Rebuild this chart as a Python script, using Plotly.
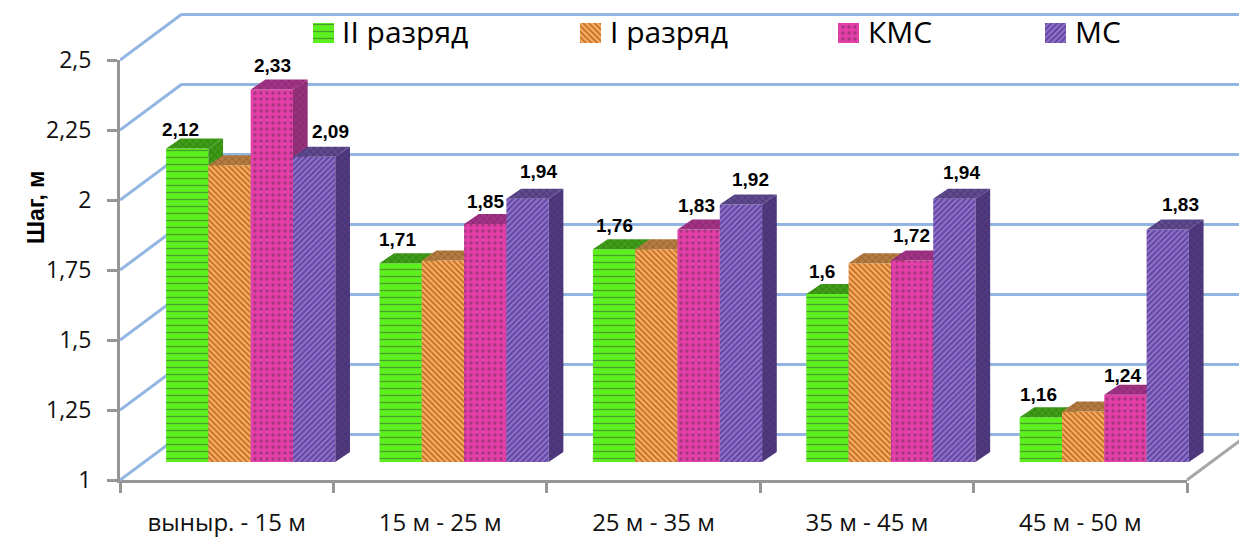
import plotly.graph_objects as go

W, H = 1239, 538

categories = ["выныр. - 15 м", "15 м - 25 м", "25 м - 35 м", "35 м - 45 м", "45 м - 50 м"]
series_names = ["II разряд", "I разряд", "КМС", "МС"]
second_class = [2.12, 1.71, 1.76, 1.60, 1.16]
first_class = [2.06, 1.72, 1.76, 1.71, 1.18]
candidate_master = [2.33, 1.85, 1.83, 1.72, 1.24]
master = [2.09, 1.94, 1.92, 1.94, 1.83]
y_ticks = [1, 1.25, 1.5, 1.75, 2, 2.25, 2.5]

# which bars carry a value label, and how far each label sits from its bar top
labelled = [True, False, True, True]
label_shift = {
    (0, 0): (-7, 19), (0, 1): (-3, 24), (0, 2): (0, 24), (0, 3): (-5, 23), (0, 4): (-2, 23),
    (2, 0): (1, 24), (2, 1): (0, 23), (2, 2): (-2, 24), (2, 3): (-1, 25), (2, 4): (-3, 19),
    (3, 0): (16, 25), (3, 1): (11, 27), (3, 2): (10, 25), (3, 3): (7, 26), (3, 4): (13, 25),
}
series_values = [second_class, first_class, candidate_master, master]

styles = [
    dict(bg="#5CF01E", fg="#4A9E2A", shape="-", size=7, solidity=0.18,
         side="#3C9A14", top="#3F9C18", side_fg="#2F7A10"),
    dict(bg="#FBAE62", fg="#BC6A22", shape="\\", size=4, solidity=0.4,
         side="#A9703A", top="#B57C42", side_fg="#8E5A2A"),
    dict(bg="#E23FA9", fg="#A8357F", shape=".", size=6, solidity=0.25,
         side="#96307A", top="#A23285", side_fg="#7C2664"),
    dict(bg="#8F71C4", fg="#5A3EA3", shape="/", size=4, solidity=0.4,
         side="#50397F", top="#5E4A8C", side_fg="#43306E"),
]

GRID = "#92B5E2"
AXIS = "#969696"
FONT = "Open Sans"

# geometry of the pseudo-3D box, in pixels
AX_L, AX_R, AX_B, AX_T = 120, 1187, 480, 60
SLOT = (AX_R - AX_L) / 5
UNIT = (AX_B - AX_T) / 1.5
BACK_DX, BACK_DY = 62, 46
BAR_DX, BAR_DY = 44 / 3, 10
BAR_SHIFT_X, BAR_SHIFT_Y = 24, 18
BAR_W = 42.3 / SLOT


def xdom(a, b):
    return [max(a, 0) / W, min(b, W) / W]


def ydom(bottom, top):
    return [(H - bottom) / H, (H - top) / H]


fig = go.Figure()
layout_axes = {}

# main axes: category ticks and value ticks
fig.add_trace(go.Scatter(x=categories, y=[1] * 5, mode="lines", line=dict(width=0),
                         hoverinfo="skip", xaxis="x", yaxis="y", showlegend=False))
layout_axes["xaxis"] = dict(
    domain=xdom(AX_L, AX_R), anchor="y", type="category", categoryorder="array",
    categoryarray=categories, range=[-0.5, 4.5], tickson="boundaries", ticks="outside",
    ticklen=10, tickwidth=3, tickcolor=AXIS, showline=True, linecolor=AXIS, linewidth=3,
    showgrid=False, zeroline=False, ticklabelstandoff=19, automargin=False,
    tickfont=dict(family=FONT, size=24, color="#111111"))
layout_axes["yaxis"] = dict(
    domain=ydom(AX_B, AX_T), anchor="x", range=[1, 2.5], tickmode="array", tickvals=y_ticks,
    ticktext=[format(v, "g").replace(".", ",") for v in y_ticks], ticks="outside",
    ticklen=10, tickwidth=3, tickcolor=AXIS, showline=True, linecolor=AXIS, linewidth=3,
    showgrid=False, zeroline=False, ticklabelstandoff=11, automargin=False,
    tickfont=dict(family=FONT, size=23, color="#111111"))

# back wall with its horizontal gridlines; the range runs a little past both
# end ticks so those gridlines are kept
fig.add_trace(go.Scatter(x=[0], y=[1], mode="lines", line=dict(width=0), hoverinfo="skip",
                         xaxis="x2", yaxis="y2", showlegend=False))
PAD_LOW, PAD_HIGH = 0.05, 0.03
layout_axes["xaxis2"] = dict(domain=xdom(AX_L + BACK_DX, W), anchor="y2", range=[0, 1],
                             visible=False)
layout_axes["yaxis2"] = dict(
    domain=ydom(AX_B - BACK_DY + PAD_LOW * UNIT, AX_T - BACK_DY - PAD_HIGH * UNIT), anchor="x2",
    range=[1 - PAD_LOW, 2.5 + PAD_HIGH], tickmode="array", tickvals=y_ticks, showgrid=True,
    gridcolor=GRID, gridwidth=3, showticklabels=False, zeroline=False,
    ticks="", showline=False, automargin=False)

# side-wall lines running from the value axis back to the wall, plus the floor edge
dx_slot = BACK_DX / SLOT
dy_val = BACK_DY / UNIT
wall_x, wall_y = [], []
for v in y_ticks:
    wall_x += [0, dx_slot, None]
    wall_y += [v, v + dy_val, None]
fig.add_trace(go.Scatter(x=wall_x, y=wall_y, mode="lines", line=dict(color=GRID, width=3),
                         hoverinfo="skip", xaxis="x3", yaxis="y3", showlegend=False))
fig.add_trace(go.Scatter(x=[5, 5 + dx_slot], y=[1, 1 + dy_val], mode="lines",
                         line=dict(color="#A6A6A6", width=3), hoverinfo="skip",
                         xaxis="x3", yaxis="y3", showlegend=False))
layout_axes["xaxis3"] = dict(domain=xdom(AX_L, W), anchor="y3",
                             range=[0, (W - AX_L) / SLOT], visible=False)
layout_axes["yaxis3"] = dict(domain=ydom(AX_B + 10, 0), anchor="x3",
                             range=[1 - 10 / UNIT, 1 + AX_B / UNIT], visible=False)

# one stacked subplot per series, so each column paints over its left neighbour
annotations = []
ddx = BAR_DX / SLOT
ddy = BAR_DY / UNIT
for s, (name, values, st) in enumerate(zip(series_names, series_values, styles)):
    xa, ya = f"x{s + 4}", f"y{s + 4}"
    xs = [i + 0.5 + (s - 1.5) * BAR_W for i in range(len(values))]
    fig.add_trace(go.Bar(
        x=xs, y=values, width=BAR_W, name=name, xaxis=xa, yaxis=ya, showlegend=False,
        marker=dict(color=st["bg"], line=dict(width=0),
                    pattern=dict(shape=st["shape"], fgcolor=st["fg"], bgcolor=st["bg"],
                                 size=st["size"], solidity=st["solidity"], fillmode="replace"))))
    top_x, top_y, side_x, side_y = [], [], [], []
    for x, v in zip(xs, values):
        l, r = x - BAR_W / 2, x + BAR_W / 2
        top_x += [l, r, r + ddx, l + ddx, l, None]
        top_y += [v, v, v + ddy, v + ddy, v, None]
        side_x += [r, r + ddx, r + ddx, r, r, None]
        side_y += [v, v + ddy, 1 + ddy, 1, v, None]
    fig.add_trace(go.Scatter(
        x=side_x, y=side_y, mode="none", fill="toself", fillcolor=st["side"],
        fillpattern=dict(shape="x", fgcolor=st["side_fg"], bgcolor=st["side"], size=5, solidity=0.25),
        hoverinfo="skip", xaxis=xa, yaxis=ya, showlegend=False))
    fig.add_trace(go.Scatter(
        x=top_x, y=top_y, mode="none", fill="toself", fillcolor=st["top"],
        fillpattern=dict(shape="x", fgcolor=st["side_fg"], bgcolor=st["top"], size=5, solidity=0.25),
        hoverinfo="skip", xaxis=xa, yaxis=ya, showlegend=False))
    axis_x = "xaxis" + xa[1:]
    axis_y = "yaxis" + ya[1:]
    layout_axes[axis_x] = dict(domain=xdom(AX_L + BAR_SHIFT_X, AX_R + BAR_SHIFT_X), anchor=ya,
                               range=[0, 5], visible=False)
    layout_axes[axis_y] = dict(domain=ydom(AX_B - BAR_SHIFT_Y, AX_T - BAR_SHIFT_Y), anchor=xa,
                               range=[1, 2.5], visible=False)
    if labelled[s]:
        for i, (x, v) in enumerate(zip(xs, values)):
            sx, sy = label_shift[(s, i)]
            annotations.append(dict(
                x=x, y=v, xref=xa, yref=ya,
                text="<b>" + format(v, "g").replace(".", ",") + "</b>",
                showarrow=False, xshift=sx, yshift=sy,
                font=dict(family="Liberation Sans", size=19, color="#000000"),
            ))

# series key along the top of the chart
key_left = [313, 580, 838, 1045]
key_text_left = [342, 610, 868, 1075]
for s, (name, st) in enumerate(zip(series_names, styles)):
    fig.add_trace(go.Bar(
        x=[key_left[s] + 10.5], y=[20], base=[23], width=21, xaxis="x8", yaxis="y8",
        showlegend=False, hoverinfo="skip",
        marker=dict(color=st["bg"], line=dict(width=0),
                    pattern=dict(shape=st["shape"], fgcolor=st["fg"], bgcolor=st["bg"],
                                 size=st["size"], solidity=st["solidity"], fillmode="replace"))))
    annotations.append(dict(
        x=key_text_left[s], y=31, xref="x8", yref="y8", text=name, xanchor="left",
        xshift=-2, showarrow=False, font=dict(family=FONT, size=30, color="#000000")))
layout_axes["xaxis8"] = dict(domain=[0, 1], anchor="y8", range=[0, W], visible=False)
layout_axes["yaxis8"] = dict(domain=[0, 1], anchor="x8", range=[H, 0], visible=False)

annotations.append(dict(
    x=21 / W, y=(H - 208) / H, xref="paper", yref="paper", text="<b>Шаг, м</b>", textangle=-90,
    showarrow=False, font=dict(family="Liberation Sans", size=23, color="#000000")))

fig.update_layout(
    template="none",
    width=W, height=H, margin=dict(l=0, r=0, t=0, b=0), autosize=False,
    paper_bgcolor="white", plot_bgcolor="rgba(0,0,0,0)", showlegend=False,
    barmode="overlay", annotations=annotations, **layout_axes)

fig.write_html("out.html", config=dict(displayModeBar=False))
